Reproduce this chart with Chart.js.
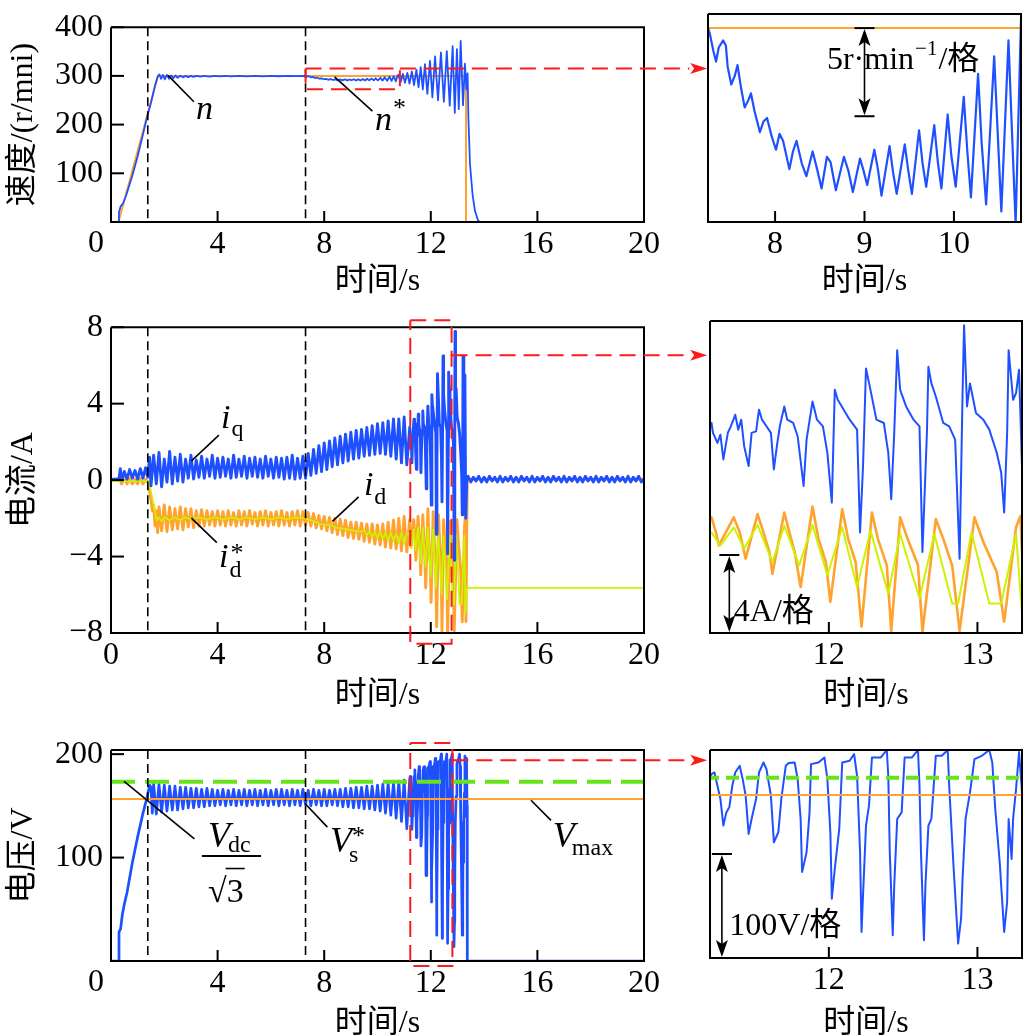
<!DOCTYPE html>
<html>
<head>
<meta charset="utf-8">
<script src="https://cdn.jsdelivr.net/npm/chart.js@4.4.1/dist/chart.umd.min.js"></script>
<style>
html, body { margin: 0; padding: 0; background: #fff; width: 1028px; height: 1035px; overflow: hidden; position: relative; }
canvas { position: absolute; }
</style>
</head>
<body>
<canvas id="c1"></canvas>
<canvas id="c3"></canvas>
<canvas id="c5"></canvas>
<canvas id="c2"></canvas>
<canvas id="c4"></canvas>
<canvas id="c6"></canvas>
<script>
// ---- data (t in s) ----
const timeTicksFull = [0, 4, 8, 12, 16, 20];
const timeTicksSpeedZoom = [8, 9, 10];
const timeTicksZoom = [12, 13];
const speedTicks = [100, 200, 300, 400];
const currentTicks = [-8, -4, 0, 4, 8];
const voltageTicks = [100, 200];
const phaseMarks = [1.38, 7.3]; // 阶段分界

// n* 速度给定
const speedRef = [[0,0],[0.28,0],[1.76,300],[13.32,300],[13.32,0],[20,0]];
// n 实际速度
const speedN = [
  [0,0],[0.28,0],[0.3,20],[0.36,32],[0.45,38],[0.57,55],[0.8,95],[1.0,135],[1.2,180],[1.35,215],[1.5,245],[1.65,280],[1.76,300],
  [1.82,303],[1.88,294],[1.95,302],[2.02,293],[2.1,302],[2.18,294],[2.26,301],[2.34,295],[2.42,301],[2.5,296],[2.6,300.5],[2.7,297],
  [2.8,300],[2.9,297.5],[3.0,300],[3.1,298],[3.2,300],[3.35,298.5],[3.5,300],[3.7,298.5],[3.9,300],[4.1,299],[4.3,300],[4.5,299],
  [4.8,300],[5.1,299],[5.4,300],[5.7,299.2],[6.0,300],[6.3,299.3],[6.6,300],[6.9,299.5],[7.25,300],
  [7.27,299.7],[7.31,298.7],[7.34,298.1],[7.37,298.9],[7.42,299.3],[7.45,299.0],[7.47,297.8],[7.51,296.8],[7.55,297.3],[7.58,297.9],
  [7.62,296.6],[7.66,295.5],[7.70,295.9],[7.73,296.3],[7.77,295.3],[7.83,294.1],[7.87,294.7],[7.91,294.9],[7.96,293.9],[8.01,293.1],
  [8.05,294.0],[8.09,293.6],[8.16,292.0],[8.20,293.0],[8.24,293.6],[8.30,292.3],[8.35,291.6],[8.42,293.0],[8.47,292.0],[8.52,290.9],
  [8.58,292.7],[8.62,292.4],[8.68,290.8],[8.77,292.7],[8.82,291.9],[8.87,290.7],[8.95,292.6],[8.99,291.9],[9.03,291.1],[9.11,293.1],
  [9.15,292.0],[9.19,290.5],[9.28,293.3],[9.32,291.8],[9.36,290.6],[9.45,293.4],[9.49,291.9],[9.53,290.6],[9.61,294.2],[9.65,292.3],
  [9.69,291.0],[9.78,294.5],[9.82,292.4],[9.86,290.9],[9.93,295.1],[9.97,292.8],[10.02,291.0],[10.11,296.1],[10.15,293.0],[10.19,290.4],
  [10.27,297.4],[10.31,293.5],[10.36,290.0],[10.45,298.4],[10.49,294.0],[10.53,289.6],[10.61,299.3],[10.65,294.0],[10.69,288.9],[10.75,300.5],
  [10.78,302],[10.87,287.5],[10.95,304],[11.03,286],[11.12,306],[11.20,284],[11.29,309],[11.37,281],[11.46,313],[11.54,277],
  [11.62,318],[11.70,272],[11.78,324],[11.87,263],[11.97,331],[12.06,256],[12.16,340],[12.27,250],[12.38,348],[12.49,247],
  [12.60,351],[12.71,239],[12.82,361],[12.90,224],[12.98,355],[13.05,232],[13.12,372],[13.21,240],[13.28,325],[13.34,272],
  [13.38,305],[13.41,215],[13.47,119],[13.57,55],[13.66,22],[13.78,2],[13.9,0],[20,0]
];

// iq
const iqData = [
  [0,0.05],[0.3,0.05],[0.35,0.6],[0.4,0],[0.5,0.45],[0.6,0.05],[0.7,0.55],[0.8,0.1],[0.9,0.5],[1.0,0.05],[1.1,0.6],[1.2,0.1],[1.3,0.65],[1.38,0.15],
  [1.45,1.2],[1.5,-0.3],[1.6,1.3],[1.7,-0.2],[1.8,1.45],[1.9,-0.35],[2.0,1.1],[2.1,-0.1],[2.2,1.5],[2.3,-0.2],[2.4,1.2],[2.5,-0.05],
  [2.6,1.35],[2.7,-0.1],[2.8,1.1],[2.9,0.1],[3.0,1.3],[3.1,0.05],[3.2,1.05],[3.3,0.15],[3.4,1.25],[3.5,0.1],[3.6,1.1],[3.7,0.2],
  [3.8,1.3],[3.9,0.1],[4.0,1.15],[4.1,0.15],[4.2,1.2],[4.3,0.2],[4.4,1.1],[4.5,0.1],[4.6,1.3],[4.7,0.15],[4.8,1.1],[4.9,0.2],
  [5.0,1.25],[5.1,0.1],[5.2,1.15],[5.3,0.2],[5.4,1.2],[5.5,0.15],[5.6,1.1],[5.7,0.1],[5.8,1.25],[5.9,0.2],[6.0,1.1],[6.1,0.1],
  [6.2,1.2],[6.3,0.15],[6.4,1.15],[6.5,0.05],[6.6,1.2],[6.7,0.1],[6.8,1.3],[6.9,0.05],[7.0,1.15],[7.1,0.1],[7.2,1.25],[7.3,0.1],
  [7.4,1.4],[7.5,0.25],[7.6,1.6],[7.7,0.35],[7.8,1.8],[7.9,0.45],[8.0,1.95],[8.1,0.55],[8.2,2.05],[8.3,0.7],[8.4,2.2],[8.5,0.8],
  [8.6,2.3],[8.7,0.9],[8.8,2.4],[8.9,1.0],[9.0,2.5],[9.1,1.1],[9.2,2.6],[9.3,1.15],[9.4,2.65],[9.5,1.25],[9.6,2.75],[9.7,1.3],
  [9.8,2.85],[9.9,1.35],[10.0,2.95],[10.1,1.4],[10.2,3.0],[10.3,1.35],[10.4,3.1],[10.5,1.25],[10.6,3.2],[10.7,1.1],[10.8,3.2],
  [10.9,0.9],[11.0,3.3],[11.1,0.8],
  [11.21,2.77],[11.22,2.26],[11.25,1.75],[11.27,2.17],[11.29,0.90],[11.32,2.26],[11.34,2.60],[11.37,3.19],[11.39,2.43],[11.41,2.94],
  [11.43,1.58],[11.46,0.56],[11.48,2.26],[11.51,2.34],[11.53,3.45],[11.55,2.94],[11.58,2.60],[11.61,2.26],[11.63,0.39],[11.65,1.58],
  [11.67,2.60],[11.70,3.62],[11.72,2.94],[11.76,2.77],[11.79,2.09],[11.83,-0.46],[11.85,1.92],[11.89,3.87],[11.92,2.94],[11.96,2.60],
  [11.99,1.24],[12.02,-1.31],[12.04,4.47],[12.06,3.96],[12.10,3.45],[12.14,2.94],[12.19,2.43],[12.21,-2.84],[12.23,0.56],[12.25,5.57],
  [12.28,4.47],[12.32,2.94],[12.37,2.77],[12.40,1.24],[12.42,-1.14],[12.44,2.26],[12.46,6.50],[12.48,4.47],[12.52,3.62],[12.57,2.94],
  [12.61,2.60],[12.63,-3.85],[12.66,2.26],[12.67,5.65],[12.69,4.80],[12.72,4.13],[12.77,2.77],[12.81,2.60],[12.85,1.92],[12.88,-4.19],
  [12.90,4.30],[12.91,7.78],[12.93,3.62],[12.95,4.80],[12.99,3.28],[13.04,2.94],[13.08,2.43],[13.13,1.24],[13.16,0.22],[13.18,-1.82],
  [13.20,2.26],[13.21,6.50],[13.24,3.96],[13.26,4.30],[13.28,5.5],[13.31,-2.0],[13.35,0.1],
  [13.4,0.2],[13.5,-0.1],[13.6,0.15],[13.7,-0.05],[13.8,0.2],[13.9,-0.1],[14.0,0.15],[14.1,-0.1],[14.2,0.2],[14.3,-0.05],
  [14.4,0.15],[14.5,-0.1],[14.6,0.2],[14.7,-0.1],[14.8,0.15],[14.9,-0.05],[15.0,0.2],[15.1,-0.1],[15.2,0.15],[15.3,-0.1],
  [15.4,0.2],[15.5,-0.05],[15.6,0.15],[15.7,-0.1],[15.8,0.2],[15.9,-0.1],[16.0,0.15],[16.1,-0.05],[16.2,0.2],[16.3,-0.1],
  [16.4,0.15],[16.5,-0.1],[16.6,0.2],[16.7,-0.05],[16.8,0.15],[16.9,-0.1],[17.0,0.2],[17.1,-0.1],[17.2,0.15],[17.3,-0.05],
  [17.4,0.2],[17.5,-0.1],[17.6,0.15],[17.7,-0.1],[17.8,0.2],[17.9,-0.05],[18.0,0.15],[18.1,-0.1],[18.2,0.2],[18.3,-0.1],
  [18.4,0.15],[18.5,-0.05],[18.6,0.2],[18.7,-0.1],[18.8,0.15],[18.9,-0.1],[19.0,0.2],[19.1,-0.05],[19.2,0.15],[19.3,-0.1],
  [19.4,0.2],[19.5,-0.1],[19.6,0.15],[19.7,-0.05],[19.8,0.2],[19.9,-0.1],[20,0.05]
];

// id
const idData = [
  [0,-0.05],[0.3,0.1],[0.4,-0.2],[0.5,0.1],[0.6,-0.2],[0.7,0.1],[0.8,-0.2],[0.9,0.05],[1.0,-0.2],[1.1,0.1],[1.2,-0.2],[1.3,0.05],[1.4,-0.15],
  [1.45,-0.6],[1.5,-1.0],[1.55,-1.6],[1.6,-1.3],[1.65,-2.4],[1.7,-1.6],[1.75,-2.75],[1.8,-1.4],[1.9,-2.65],[2.0,-1.3],[2.1,-2.7],
  [2.2,-1.4],[2.3,-2.6],[2.4,-1.5],[2.5,-2.55],[2.6,-1.4],[2.7,-2.6],[2.8,-1.5],[2.9,-2.45],[3.0,-1.5],[3.1,-2.5],[3.2,-1.6],
  [3.3,-2.4],[3.4,-1.55],[3.5,-2.4],[3.6,-1.6],[3.7,-2.35],[3.8,-1.65],[3.9,-2.4],[4.0,-1.6],[4.1,-2.35],[4.2,-1.65],[4.3,-2.4],
  [4.4,-1.6],[4.5,-2.35],[4.6,-1.7],[4.7,-2.4],[4.8,-1.6],[4.9,-2.35],[5.0,-1.65],[5.1,-2.4],[5.2,-1.6],[5.3,-2.3],[5.4,-1.7],
  [5.5,-2.4],[5.6,-1.65],[5.7,-2.35],[5.8,-1.6],[5.9,-2.4],[6.0,-1.7],[6.1,-2.35],[6.2,-1.65],[6.3,-2.4],[6.4,-1.6],[6.5,-2.35],
  [6.6,-1.7],[6.7,-2.4],[6.8,-1.65],[6.9,-2.35],[7.0,-1.6],[7.1,-2.4],[7.2,-1.65],[7.3,-2.35],
  [7.4,-1.7],[7.5,-2.4],[7.6,-1.75],[7.7,-2.5],[7.8,-1.85],[7.9,-2.55],[8.0,-1.9],[8.1,-2.65],[8.2,-1.95],[8.3,-2.75],[8.4,-2.0],
  [8.5,-2.85],[8.6,-2.05],[8.7,-2.9],[8.8,-2.1],[8.9,-3.0],[9.0,-2.2],[9.1,-3.05],[9.2,-2.2],[9.3,-3.1],[9.4,-2.25],[9.5,-3.2],
  [9.6,-2.3],[9.7,-3.25],[9.8,-2.3],[9.9,-3.35],[10.0,-2.35],[10.1,-3.4],[10.2,-2.3],[10.3,-3.5],[10.4,-2.2],[10.5,-3.55],
  [10.6,-2.1],[10.7,-3.6],[10.8,-2.0],[10.9,-3.7],[11.0,-1.9],[11.1,-3.75],
  [11.21,-2.07],[11.24,-2.84],[11.26,-3.51],[11.36,-2.07],[11.40,-2.84],[11.44,-4.19],[11.52,-1.90],[11.56,-2.84],[11.60,-3.85],
  [11.62,-4.96],[11.70,-1.82],[11.74,-3.01],[11.77,-3.85],[11.81,-5.64],[11.89,-1.51],[11.93,-3.17],[11.98,-4.36],[12.01,-6.40],
  [12.09,-1.65],[12.13,-3.17],[12.18,-4.36],[12.22,-7.67],[12.29,-1.82],[12.33,-3.17],[12.39,-4.53],[12.42,-7.89],[12.48,-2.07],
  [12.53,-3.17],[12.60,-4.53],[12.63,-7.93],[12.72,-2.16],[12.77,-3.17],[12.83,-4.53],[12.88,-7.89],[12.98,-2.07],[13.04,-3.34],
  [13.13,-4.87],[13.18,-7.42],[13.26,-2.58],[13.29,-2.0],[13.32,-7.4],[13.35,-2.5],[13.37,0.05],[20,0.05]
];

// id*
const idRef = [
  [0,-0.05],[1.42,-0.05],[1.72,-2.1],[1.8,-1.95],[1.9,-2.15],[2.0,-1.95],[2.2,-2.1],[2.4,-1.95],[2.6,-2.1],[2.8,-1.95],[3.0,-2.05],
  [3.3,-1.95],[3.6,-2.05],[3.9,-1.95],[4.2,-2.05],[4.5,-1.95],[4.8,-2.05],[5.1,-1.95],[5.4,-2.05],[5.7,-1.95],[6.0,-2.05],[6.3,-1.95],
  [6.6,-2.05],[6.9,-1.95],[7.3,-2.0],[7.6,-2.15],[7.9,-2.3],[8.2,-2.35],[8.5,-2.5],[8.8,-2.55],[9.1,-2.65],[9.4,-2.7],[9.5,-2.6],
  [9.6,-2.9],[9.7,-2.65],[9.8,-3.0],[9.9,-2.7],[10.0,-3.05],[10.1,-2.7],[10.2,-3.1],[10.3,-2.75],[10.4,-3.15],[10.5,-2.75],[10.6,-3.2],
  [10.7,-2.8],[10.8,-3.3],[10.9,-2.75],[11.0,-3.35],[11.1,-2.8],
  [11.21,-2.84],[11.27,-3.51],[11.36,-2.58],[11.43,-3.68],[11.52,-2.46],[11.62,-4.36],[11.70,-2.50],[11.80,-4.53],[11.89,-2.46],
  [11.99,-5.04],[12.09,-2.58],[12.19,-5.64],[12.28,-2.75],[12.40,-5.98],[12.48,-2.92],[12.61,-6.23],[12.71,-2.92],[12.83,-6.49],
  [12.87,-6.49],[12.96,-2.84],[13.08,-6.49],[13.16,-6.49],[13.26,-2.92],[13.30,-7.0],[13.35,-5.64],[20,-5.64]
];

// Vs*
const vsData = [
  [0,0],[0.28,0],[0.3,28],[0.36,31],[0.42,44],[0.5,55],[0.6,66],[0.8,95],[1.0,120],[1.2,143],[1.35,158],[1.45,170],
  [1.5,168],[1.55,143],[1.6,171],[1.7,142],[1.8,171],[1.9,144],[2.0,170],[2.1,145],[2.2,169],[2.3,146],[2.4,169],[2.5,146],
  [2.6,168],[2.7,147],[2.8,168],[2.9,148],[3.0,167],[3.1,148],[3.2,167],[3.3,149],[3.4,166],[3.5,149],[3.6,167],[3.7,150],
  [3.8,166],[3.9,150],[4.0,165],[4.1,151],[4.2,166],[4.3,150],[4.4,165],[4.5,151],[4.6,166],[4.7,150],[4.8,165],[4.9,151],
  [5.0,166],[5.1,150],[5.2,165],[5.3,151],[5.4,166],[5.5,150],[5.6,165],[5.7,151],[5.8,166],[5.9,150],[6.0,165],[6.1,151],
  [6.2,166],[6.3,150],[6.4,166],[6.5,151],[6.6,165],[6.7,150],[6.8,166],[6.9,151],[7.0,165],[7.1,150],[7.2,166],[7.3,151],
  [7.4,165],[7.5,150],[7.6,166],[7.7,151],[7.8,165],[7.9,150],[8.0,166],[8.1,150],[8.2,165],[8.3,151],[8.4,166],[8.5,150],
  [8.6,166],[8.7,149],[8.8,167],[8.9,149],[9.0,167],[9.1,148],[9.2,168],[9.3,148],[9.4,168],[9.5,147],[9.6,169],[9.7,147],
  [9.8,169],[9.9,146],[10.0,170],[10.1,145],[10.2,171],[10.3,143],[10.4,172],[10.5,141],[10.6,173],[10.7,138],[10.8,174],
  [10.9,135],[11.0,175],[11.1,128],
  [11.21,176.8],[11.23,178.4],[11.25,165.6],[11.27,152.9],[11.29,127.3],[11.31,140],[11.33,144.9],[11.35,165.6],[11.37,178.4],
  [11.40,184.8],[11.42,172],[11.44,156],[11.46,119.3],[11.48,133.7],[11.51,152.9],[11.53,178.4],[11.56,188],[11.58,181.6],
  [11.61,156],[11.63,111.3],[11.66,120.9],[11.68,152.9],[11.71,184.8],[11.73,187.4],[11.77,188],[11.79,172],[11.81,133.7],
  [11.82,82.6],[11.85,101.7],[11.87,140],[11.88,186.4],[11.93,188],[11.97,192.8],[11.99,172],[12.01,120.9],[12.02,57],
  [12.04,85.8],[12.07,124.1],[12.09,188],[12.14,189.6],[12.17,196],[12.19,175],[12.21,101.7],[12.22,25],[12.23,60.2],
  [12.25,127.3],[12.27,146.5],[12.29,192.8],[12.35,192.8],[12.39,200],[12.40,175],[12.41,101.7],[12.43,21.9],[12.44,69.8],
  [12.46,133.7],[12.49,140],[12.51,192.8],[12.56,192.8],[12.60,200],[12.61,165.6],[12.62,101.7],[12.64,17.1],[12.65,69.8],
  [12.67,127.3],[12.69,133.7],[12.72,194.4],[12.76,194.4],[12.80,200],[12.81,165.6],[12.84,85.8],[12.87,13.9],[12.89,37.8],
  [12.90,76.2],[12.92,133.7],[12.95,159.2],[12.98,191.2],[13.03,194.4],[13.08,200],[13.10,188],[13.12,143.3],[13.15,92.1],
  [13.18,25],[13.20,53.8],[13.21,133.7],[13.23,95.3],[13.24,133.7],[13.26,162.4],
  [13.28,198],[13.31,140],[13.34,196],[13.36,150],[13.37,0],[20,0]
];
const vdcLimit = [[0,173.3],[20,173.3]];  // Vdc/√3
const vmaxLine = [[0,156.7],[20,156.7]];  // Vmax

// ---- style ----
const FONT = "'Liberation Serif', 'Noto Sans CJK SC', serif";
const FS = 32;
const BLUE = '#1f50ff', ORANGE = '#ffa22e', YELLOW = '#cdf200', GREEN = '#66e31a', RED = '#ff1a1a';

const pts = arr => arr.map(([x, y]) => ({x, y}));

function line(ctx, p, color, w, dash) {
  ctx.save();
  ctx.strokeStyle = color; ctx.lineWidth = w; ctx.setLineDash(dash || []);
  ctx.beginPath();
  p.forEach(([x, y], i) => i ? ctx.lineTo(x, y) : ctx.moveTo(x, y));
  ctx.stroke();
  ctx.restore();
}
function poly(ctx, p, color) {
  ctx.save();
  ctx.fillStyle = color;
  ctx.beginPath();
  p.forEach(([x, y], i) => i ? ctx.lineTo(x, y) : ctx.moveTo(x, y));
  ctx.closePath(); ctx.fill();
  ctx.restore();
}
function write(ctx, s, x, y, size, italic) {
  ctx.save();
  ctx.font = (italic ? 'italic ' : '') + size + 'px ' + FONT;
  ctx.fillStyle = '#000'; ctx.textAlign = 'left'; ctx.textBaseline = 'alphabetic';
  ctx.fillText(s, x, y);
  const w = ctx.measureText(s).width;
  ctx.restore();
  return w;
}
function redLink(ctx, x1, x2, xTip, y) {
  line(ctx, [[x1, y], [x2, y]], RED, 2, [16, 8]);
  poly(ctx, [[xTip, y], [xTip - 17, y - 5.5], [xTip - 13, y], [xTip - 17, y + 5.5]], RED);
}
function redBox(ctx, x1, y1, x2, y2) {
  line(ctx, [[x1, y1], [x2, y1], [x2, y2], [x1, y2], [x1, y1]], RED, 2, [16, 8]);
}
function dblArrow(ctx, x, y1, y2) {
  line(ctx, [[x - 10, y1], [x + 10, y1]], '#000', 2);
  line(ctx, [[x - 10, y2], [x + 10, y2]], '#000', 2);
  line(ctx, [[x, y1 + 4], [x, y2 - 4]], '#000', 1.6);
  poly(ctx, [[x, y1 + 1], [x - 6, y1 + 18], [x, y1 + 14], [x + 6, y1 + 18]], '#000');
  poly(ctx, [[x, y2 - 1], [x - 6, y2 - 18], [x, y2 - 14], [x + 6, y2 - 18]], '#000');
}
function phase(ctx, X, a) {
  phaseMarks.forEach(t => line(ctx, [[X(t), a.top], [X(t), a.bottom]], '#000', 1.6, [9, 5]));
}

const framePlugin = {
  id: 'frame',
  afterDraw(chart, args, opts) {
    const {ctx, chartArea: a, scales} = chart;
    const X = v => scales.x.getPixelForValue(v);
    const Y = v => scales.y.getPixelForValue(v);
    (opts.xTicks || []).forEach(v => {
      const px = X(v);
      if (px > a.left + 2 && px < a.right - 2) line(ctx, [[px, a.bottom], [px, a.bottom - 11]], '#000', 2);
    });
    (opts.yTicks || []).forEach(v => {
      const py = Y(v);
      if (py > a.top - 6 && py < a.bottom - 2) line(ctx, [[a.left, py], [a.left + 13, py]], '#000', 2);
    });
    line(ctx, [[a.left, a.top], [a.right, a.top], [a.right, a.bottom], [a.left, a.bottom], [a.left, a.top]], '#000', 2);
    if (opts.zeroLabel) {
      ctx.save();
      ctx.font = FS + 'px ' + FONT; ctx.fillStyle = '#000';
      ctx.textAlign = 'center'; ctx.textBaseline = 'middle';
      ctx.fillText('0', X(0) - 15, a.bottom + 22);
      ctx.restore();
    }
    if (opts.draw) opts.draw(ctx, X, Y, a);
  }
};

function panel(id, p) {
  const cv = document.getElementById(id);
  cv.width = p.w; cv.height = p.h;
  cv.style.left = p.left + 'px'; cv.style.top = p.top + 'px';
  cv.style.width = p.w + 'px'; cv.style.height = p.h + 'px';
  const tickFont = {family: FONT, size: FS};
  return new Chart(cv, {
    type: 'line',
    data: {datasets: p.datasets},
    options: {
      responsive: false, animation: false, devicePixelRatio: 1,
      layout: {padding: {left: p.padLeft || 0, top: p.padTop, right: p.padRight, bottom: 0}},
      elements: {point: {radius: 0}, line: {tension: 0, borderJoinStyle: 'round'}},
      plugins: {
        legend: {display: false}, tooltip: {enabled: false},
        frame: {xTicks: p.xTicks, yTicks: p.yTicks, draw: p.draw, zeroLabel: p.zeroLabel}
      },
      scales: {
        x: {
          type: 'linear', min: p.xMin, max: p.xMax,
          grid: {display: false, drawTicks: false}, border: {display: false},
          afterBuildTicks: s => { s.ticks = p.xTicks.map(v => ({value: v})); },
          afterFit: s => { s.height = p.xHeight; },
          ticks: {font: tickFont, color: '#000', padding: 3, maxRotation: 0, autoSkip: false,
                  callback: v => (p.zeroLabel && v === 0) ? '' : String(v)},
          title: {display: true, text: '时间/s', font: tickFont, color: '#000', padding: {top: 4, bottom: 0}}
        },
        y: {
          type: 'linear', min: p.yMin, max: p.yMax,
          grid: {display: false, drawTicks: false}, border: {display: false},
          afterBuildTicks: s => { s.ticks = (p.yTicks || []).map(v => ({value: v})); },
          afterFit: s => { s.width = p.yWidth; },
          ticks: {display: !!p.yTitle, font: tickFont, color: '#000', padding: 8, autoSkip: false,
                  callback: v => v < 0 ? '\u2212' + Math.abs(v) : String(v)},
          title: {display: !!p.yTitle, text: p.yTitle || '', font: tickFont, color: '#000', padding: {top: 4, bottom: 0}}
        }
      }
    },
    plugins: [framePlugin]
  });
}

// ---- 速度 ----
panel('c1', {
  left: 0, top: 0, w: 712, h: 301, padTop: 14, padRight: 68, yWidth: 111, xHeight: 79,
  xMin: 0, xMax: 20, yMin: 0, yMax: 400, xTicks: timeTicksFull, yTicks: speedTicks,
  yTitle: '速度/(r/mni)', zeroLabel: true,
  datasets: [
    {data: pts(speedN), borderColor: BLUE, borderWidth: 1.8, order: 0},
    {data: pts(speedRef), borderColor: ORANGE, borderWidth: 2, order: 1}
  ],
  draw(ctx, X, Y, a) {
    phase(ctx, X, a);
    line(ctx, [[X(2.14), Y(301)], [X(3.11), Y(247)]], '#000', 1.6);
    write(ctx, 'n', X(3.19), Y(211), 34, true);
    line(ctx, [[X(8.39), Y(298)], [X(9.81), Y(227.7)]], '#000', 1.6);
    const w = write(ctx, 'n', X(9.91), Y(188), 34, true);
    write(ctx, '*', X(9.91) + w + 1, Y(188) - 14, 26, false);
    redBox(ctx, X(7.3), Y(315), X(10.84), Y(272.5));
    redLink(ctx, X(10.84), X(21.7), X(22.37), Y(315));
  }
});
panel('c2', {
  left: 700, top: 0, w: 328, h: 301, padTop: 14, padRight: 7, yWidth: 8, xHeight: 79,
  xMin: 7.25, xMax: 10.75, yMin: 289, yMax: 300.8, xTicks: timeTicksSpeedZoom,
  datasets: [
    {data: pts(speedN), borderColor: BLUE, borderWidth: 2.2, order: 0},
    {data: pts(speedRef), borderColor: ORANGE, borderWidth: 2, order: 1}
  ],
  draw(ctx, X, Y) {
    dblArrow(ctx, X(9.0), Y(300), Y(295));
    let x = X(8.58);
    const y = Y(297.7);
    x += write(ctx, '5r\u00b7min', x, y, 32, false);
    x += write(ctx, '\u22121', x + 1, y - 14, 21, false) + 2;
    write(ctx, '/格', x, y, 32, false);
  }
});

// ---- 电流 ----
panel('c3', {
  left: 0, top: 300, w: 712, h: 415, padTop: 21, padRight: 68, yWidth: 111, xHeight: 82,
  xMin: 0, xMax: 20, yMin: -8, yMax: 8, xTicks: timeTicksFull, yTicks: currentTicks,
  yTitle: '电流/A',
  datasets: [
    {data: pts(iqData), borderColor: BLUE, borderWidth: 2.9, order: 0},
    {data: pts(idRef), borderColor: YELLOW, borderWidth: 1.8, order: 1},
    {data: pts(idData), borderColor: ORANGE, borderWidth: 2.9, order: 2}
  ],
  draw(ctx, X, Y, a) {
    phase(ctx, X, a);
    line(ctx, [[X(3.02), Y(1.01)], [X(4.05), Y(2.35)]], '#000', 1.6);
    let w = write(ctx, 'i', X(4.13), Y(2.70), 34, true);
    write(ctx, 'q', X(4.13) + w + 1, Y(2.70) + 8, 24, false);
    line(ctx, [[X(8.31), Y(-2.16)], [X(9.29), Y(-0.88)]], '#000', 1.6);
    w = write(ctx, 'i', X(9.49), Y(-0.78), 34, true);
    write(ctx, 'd', X(9.49) + w + 1, Y(-0.78) + 9, 24, false);
    line(ctx, [[X(3.02), Y(-1.99)], [X(3.97), Y(-3.27)]], '#000', 1.6);
    w = write(ctx, 'i', X(4.05), Y(-4.57), 34, true);
    write(ctx, 'd', X(4.05) + w + 1, Y(-4.57) + 10, 24, false);
    write(ctx, '*', X(4.05) + w + 2, Y(-4.57) - 6, 26, false);
    redBox(ctx, X(11.23), Y(8.37), X(12.78), Y(-8.56));
    redLink(ctx, X(12.78), X(21.7), X(22.37), Y(6.53));
  }
});
panel('c4', {
  left: 700, top: 300, w: 328, h: 415, padTop: 21, padRight: 6, yWidth: 10, xHeight: 82,
  xMin: 11.2, xMax: 13.3, yMin: -8, yMax: 8, xTicks: timeTicksZoom,
  datasets: [
    {data: pts(iqData), borderColor: BLUE, borderWidth: 2, order: 0},
    {data: pts(idRef), borderColor: YELLOW, borderWidth: 2, order: 1},
    {data: pts(idData), borderColor: ORANGE, borderWidth: 2.6, order: 2}
  ],
  draw(ctx, X, Y) {
    dblArrow(ctx, X(11.33), Y(-4), Y(-8));
    write(ctx, '4A/格', X(11.36), Y(-7.37), 32, false);
  }
});

// ---- 电压 ----
panel('c5', {
  left: 0, top: 720, w: 712, h: 323, padTop: 30, padRight: 68, yWidth: 111, xHeight: 82,
  xMin: 0, xMax: 20, yMin: 0, yMax: 204, xTicks: timeTicksFull, yTicks: voltageTicks,
  yTitle: '电压/V', zeroLabel: true,
  datasets: [
    {data: pts(vsData), borderColor: BLUE, borderWidth: 2.7, order: 2},
    {data: pts(vmaxLine), borderColor: ORANGE, borderWidth: 2, order: 1},
    {data: pts(vdcLimit), borderColor: GREEN, borderWidth: 4, borderDash: [24, 10], order: 0}
  ],
  draw(ctx, X, Y, a) {
    phase(ctx, X, a);
    line(ctx, [[X(0.49), Y(173.6)], [X(3.13), Y(118)]], '#000', 1.6);
    let w = write(ctx, 'V', X(3.64), Y(109.8), 36, true);
    write(ctx, 'dc', X(3.64) + w - 2, Y(109.8) + 5, 24, false);
    line(ctx, [[X(3.41), Y(101.6)], [X(5.63), Y(101.6)]], '#000', 2);
    const rx = X(3.64), ry = Y(57.5);
    const rw = write(ctx, '\u221a', rx, ry, 34, false);
    const tw = write(ctx, '3', rx + rw, ry, 34, false);
    line(ctx, [[rx + rw - 1, ry - 33], [rx + rw + tw + 1, ry - 33]], '#000', 1.6);
    line(ctx, [[X(7.28), Y(152.3)], [X(8.12), Y(129.4)]], '#000', 1.6);
    w = write(ctx, 'V', X(8.22), Y(105), 36, true);
    write(ctx, 's', X(8.22) + w - 3, Y(105) + 10, 24, false);
    write(ctx, '*', X(8.22) + w, Y(105) - 8, 26, false);
    line(ctx, [[X(15.76), Y(155.4)], [X(16.51), Y(135.9)]], '#000', 1.6);
    w = write(ctx, 'V', X(16.58), Y(109.8), 36, true);
    write(ctx, 'max', X(16.58) + w - 3, Y(109.8) + 8, 24, false);
    redBox(ctx, X(11.23), Y(210.7), X(12.81), Y(-4.8));
    redLink(ctx, X(12.81), X(21.7), X(22.37), Y(194));
  }
});
panel('c6', {
  left: 700, top: 720, w: 328, h: 323, padTop: 30, padRight: 6, yWidth: 10, xHeight: 85,
  xMin: 11.2, xMax: 13.3, yMin: 0, yMax: 200, xTicks: timeTicksZoom,
  datasets: [
    {data: pts(vsData), borderColor: BLUE, borderWidth: 2, order: 2},
    {data: pts(vmaxLine), borderColor: ORANGE, borderWidth: 2, order: 1},
    {data: pts(vdcLimit), borderColor: GREEN, borderWidth: 4, borderDash: [13, 7], order: 0}
  ],
  draw(ctx, X, Y, a) {
    dblArrow(ctx, X(11.28), Y(100), a.bottom);
    write(ctx, '100V/格', X(11.33), Y(22.4), 32, false);
  }
});
</script>
</body>
</html>
